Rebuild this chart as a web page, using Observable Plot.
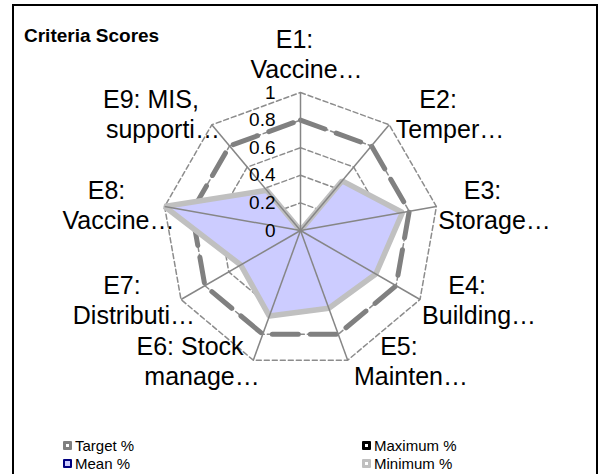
<!DOCTYPE html>
<html><head><meta charset="utf-8">
<script src="https://cdn.jsdelivr.net/npm/d3@7"></script>
<script src="https://cdn.jsdelivr.net/npm/@observablehq/plot@0.6"></script>
<style>
body{margin:0;background:#fff;font-family:"Liberation Sans",Arial,sans-serif;}
#wrap{position:relative;width:610px;height:474px;overflow:hidden;background:#fff}
#frame{position:absolute;left:12px;top:4px;width:586px;height:490px;border:2px solid #000;box-sizing:border-box}
#chart{position:absolute;left:0;top:0}
#title{position:absolute;left:24px;top:26px;font-weight:bold;font-size:19px;line-height:1;color:#000}
.leg{position:absolute;font-size:15px;line-height:1;color:#000;display:flex;align-items:center;white-space:nowrap}
.sw{display:inline-block;width:9px;height:9px;margin-right:3px;box-sizing:border-box;border-radius:1px}
</style></head><body>
<div id="wrap"><div id="frame"></div><div id="chart"></div><div id="title">Criteria Scores</div><div id="legend"></div></div>
<script>
// ---- data ----
const labelLine1 = ["E1:", "E2:", "E3:", "E4:", "E5:", "E6: Stock", "E7:", "E8:", "E9: MIS,"];
const labelLine2 = ["Vaccine…", "Temper…", "Storage…", "Building…", "Mainten…", "manage…", "Distributi…", "Vaccine…", "supporti…"];
const targetPct  = [0.8, 0.8, 0.8, 0.8, 0.8, 0.8, 0.8, 0.8, 0.8];
const maximumPct = [0.0, 0.47, 0.75, 0.63, 0.60, 0.66, 0.50, 1.0, 0.38];
const meanPct    = [0.0, 0.47, 0.75, 0.63, 0.60, 0.66, 0.50, 1.0, 0.38];
const minimumPct = [0.0, 0.47, 0.75, 0.63, 0.60, 0.66, 0.50, 1.0, 0.38];
const radialTicks = [0, 0.2, 0.4, 0.6, 0.8, 1];
const tickLabels  = ["0", "0.2", "0.4", "0.6", "0.8", "1"];
const legendNames = ["Target %", "Maximum %", "Mean %", "Minimum %"];

// ---- geometry ----
const W = 610, H = 474, CX = 300, CY = 230, RPX = 138;
const n = labelLine1.length;
const ang = i => i * 2 * Math.PI / n;
const pts = vals => vals.map((v, i) => ({x: v * Math.sin(ang(i)), y: v * Math.cos(ang(i))}));
const rings = radialTicks.filter(t => t > 0).flatMap(t => d3.range(n).map(i => ({ring: t, x: t * Math.sin(ang(i)), y: t * Math.cos(ang(i))})));
const spokes = d3.range(n).map(i => ({x: Math.sin(ang(i)), y: Math.cos(ang(i))}));
const labels = d3.range(n).map(i => {
  const s = Math.sin(ang(i)), c = Math.cos(ang(i));
  const sg = Math.abs(s) < 0.01 ? 0 : Math.sign(s);
  const px = 130 * s + 60 * sg;
  const py = -140 * c - 14 * Math.max(0, c) * Math.max(0, c) - (sg === 0 ? 22 : 0);
  return {x: px / RPX, y: -py / RPX, l1: labelLine1[i], l2: labelLine2[i]};
});
const ticks = radialTicks.map((t, i) => ({r: t, label: tickLabels[i]}));

const font = "Liberation Sans, Arial, sans-serif";
const chart = Plot.plot({
  width: W, height: H, margin: 0,
  style: {fontFamily: font, background: "transparent", overflow: "visible"},
  x: {domain: [-CX / RPX, (W - CX) / RPX], range: [0, W], axis: null},
  y: {domain: [-(H - CY) / RPX, CY / RPX], range: [H, 0], axis: null},
  marks: [
    Plot.line(rings, {x: "x", y: "y", z: "ring", curve: "linear-closed", stroke: "#8c8c8c", strokeWidth: 1.5, strokeDasharray: "5,3"}),
    Plot.line(pts(targetPct), {x: "x", y: "y", curve: "linear-closed", stroke: "#808080", strokeWidth: 5, strokeDasharray: "26,12", strokeLinejoin: "miter"}),
    Plot.line(pts(maximumPct), {x: "x", y: "y", curve: "linear-closed", stroke: "#000000", strokeWidth: 1}),
    Plot.line(pts(meanPct), {x: "x", y: "y", curve: "linear-closed", fill: "#ccccff", stroke: "none"}),
    Plot.line(pts(minimumPct), {x: "x", y: "y", curve: "linear-closed", stroke: "#c0c0c0", strokeWidth: 5.5, strokeLinejoin: "miter"}),
    Plot.link(spokes, {x1: 0, y1: 0, x2: "x", y2: "y", stroke: "#868686", strokeWidth: 1.5}),
    Plot.text(ticks, {x: 0, y: "r", text: "label", textAnchor: "end", dx: -25, fontSize: 19, fill: "#000"}),
    Plot.text(labels, {x: "x", y: "y", text: "l1", dx: -6, dy: -15, fontSize: 25, fill: "#000"}),
    Plot.text(labels, {x: "x", y: "y", text: "l2", dx: 6, dy: 15, fontSize: 25, fill: "#000"})
  ]
});
document.getElementById("chart").appendChild(chart);

// ---- legend ----
const legendStyles = [
  {bg: "#ffffff", border: "#808080"},
  {bg: "#ffffff", border: "#000000"},
  {bg: "#ccccff", border: "#000080"},
  {bg: "#ffffff", border: "#c0c0c0"}
];
const legPos = [[63, 438], [362, 438], [63, 456], [362, 456]];
const leg = document.getElementById("legend");
legendNames.forEach((name, i) => {
  const d = document.createElement("div");
  d.className = "leg";
  d.style.left = legPos[i][0] + "px";
  d.style.top = legPos[i][1] + "px";
  const sw = document.createElement("span");
  sw.className = "sw";
  sw.style.background = legendStyles[i].bg;
  sw.style.border = (i === 2 ? "2px" : "3px") + " solid " + legendStyles[i].border;
  d.appendChild(sw);
  d.appendChild(document.createTextNode(name));
  leg.appendChild(d);
});
</script>
</body></html>
